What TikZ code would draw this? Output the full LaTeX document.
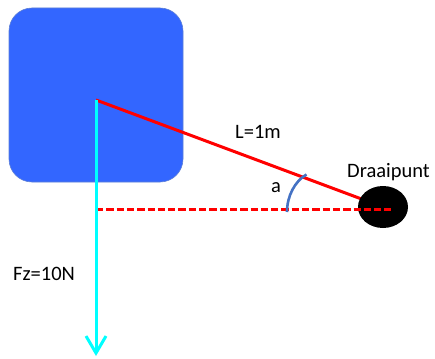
\documentclass[tikz,border=0pt]{standalone}
\usepackage{fontspec}
\setmainfont{Carlito}
\usetikzlibrary{arrows.meta,shapes.geometric}
\definecolor{boxblue}{HTML}{3366FF}
\definecolor{boxedge}{HTML}{5C7FD6}
\definecolor{arcblue}{HTML}{4472C4}
\definecolor{fcyan}{HTML}{00FFFF}
\tikzset{
  lbl/.style={anchor=base west,inner sep=0pt,font=\fontsize{20.5}{24}\selectfont},
  redline/.style={draw=red,line width=3pt},
}
\begin{document}
\begin{tikzpicture}[x=1pt,y=-1pt]
\useasboundingbox (0,0) rectangle (435,358);
\node[draw=boxedge,line width=0.6pt,fill=boxblue,rounded corners=23pt,minimum width=174pt,minimum height=174pt,inner sep=0pt] (box) at (96,95) {};
\coordinate (c) at (96,100);
\coordinate (pc) at (383,207);
\coordinate (ds) at (96,209.3);
\coordinate (de) at (391,209.3);
\coordinate (ft) at (96,356);
\draw[redline] (c) -- (pc);
\node[fill=black,ellipse,minimum width=50pt,minimum height=42pt,inner sep=0pt] (piv) at (pc) {};
\draw[red,line width=3pt,dash pattern=on 7.3pt off 3pt] (ds) -- (de);
\draw[fcyan,line width=3pt,-{Straight Barb[length=17pt,width=20pt]}] (c) -- (ft);
\coordinate (a1) at (287,212);
\coordinate (a2) at (306.5,174.5);
\draw[arcblue,line width=2.6pt] (a1) .. controls (287,196) and (295,181) .. (a2);
\node[lbl] (L) at (235,139) {L=1m};
\node[lbl] (alab) at (271,192) {a};
\node[lbl] (dp) at (347,177) {Draaipunt};
\node[lbl] (fz) at (13,280) {Fz=10N};
\end{tikzpicture}
\end{document}
